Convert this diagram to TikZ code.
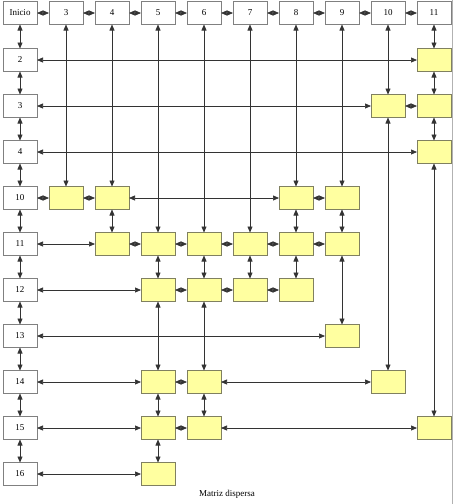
\documentclass[tikz,border=0pt]{standalone}
\usepackage{fontspec}
\setmainfont{Liberation Serif}
\usepackage{tikz}
\usetikzlibrary{arrows.meta}
\usetikzlibrary{positioning}

\definecolor{cellfill}{RGB}{255,255,160}
\definecolor{celldraw}{RGB}{128,128,96}

\begin{document}
\begin{tikzpicture}[
		x=1pt, y=-1pt,
		font=\fontsize{9}{10}\selectfont,
		H/.style = {rectangle, draw=gray,% heads of rows and columns
			minimum width=34pt, minimum height=23pt,
			inner sep=0pt, outer sep=0pt},
		Y/.style = {H, draw=celldraw, fill=cellfill},% non zero cells
		A/.style = {{Triangle[length=6pt,width=5pt]}-{Triangle[length=6pt,width=5pt]},
			draw=black!80, line width=0.7pt},
		]
		\useasboundingbox (0,0) rectangle (455,504);
		\draw[gray!60] (452.5,0) -- (452.5,504);
		% column heads
		\node[H] (c0) at (20,13) {Inicio};
		\foreach \c [remember=\c as \p (initially 0)] in {3,...,11}
		\node[H, right=12pt of c\p] (c\c) {\c};
		% row heads
		\foreach \r [count=\k] in {2,3,4,10,11,12,13,14,15,16}
		\node[H] (r\r) at (20,14+46*\k) {\r};
		% cells
		\foreach \r/\c in {2/11, 3/10, 3/11, 4/11,
			10/3, 10/4, 10/8, 10/9,
			11/4, 11/5, 11/6, 11/7, 11/8, 11/9,
			12/5, 12/6, 12/7, 12/8, 13/9,
			14/5, 14/6, 14/10, 15/5, 15/6, 15/11, 16/5}
		\node[Y] (m\r-\c) at (c\c |- r\r) {};
		% links of the heads
		\foreach \a/\b in {c0/c3,c3/c4,c4/c5,c5/c6,c6/c7,c7/c8,c8/c9,c9/c10,c10/c11,
			c0/r2,r2/r3,r3/r4,r4/r10,r10/r11,r11/r12,r12/r13,r13/r14,r14/r15,r15/r16}
		\draw[A] (\a) -- (\b);
		% links along the rows
		\foreach \a/\b in {r2/m2-11, r3/m3-10, m3-10/m3-11, r4/m4-11,
			r10/m10-3, m10-3/m10-4, m10-4/m10-8, m10-8/m10-9,
			r11/m11-4, m11-4/m11-5, m11-5/m11-6, m11-6/m11-7, m11-7/m11-8, m11-8/m11-9,
			r12/m12-5, m12-5/m12-6, m12-6/m12-7, m12-7/m12-8, r13/m13-9,
			r14/m14-5, m14-5/m14-6, m14-6/m14-10,
			r15/m15-5, m15-5/m15-6, m15-6/m15-11, r16/m16-5}
		\draw[A] (\a) -- (\b);
		% links along the columns
		\foreach \a/\b in {c3/m10-3, c4/m10-4, m10-4/m11-4,
			c5/m11-5, m11-5/m12-5, m12-5/m14-5, m14-5/m15-5, m15-5/m16-5,
			c6/m11-6, m11-6/m12-6, m12-6/m14-6, m14-6/m15-6,
			c7/m11-7, m11-7/m12-7, c8/m10-8, m10-8/m11-8, m11-8/m12-8,
			c9/m10-9, m10-9/m11-9, m11-9/m13-9, c10/m3-10, m3-10/m14-10,
			c11/m2-11, m2-11/m3-11, m3-11/m4-11, m4-11/m15-11}
		\draw[A] (\a) -- (\b);
		\node (cap) at (227,494) {Matriz dispersa};
	\end{tikzpicture}
\end{document}
